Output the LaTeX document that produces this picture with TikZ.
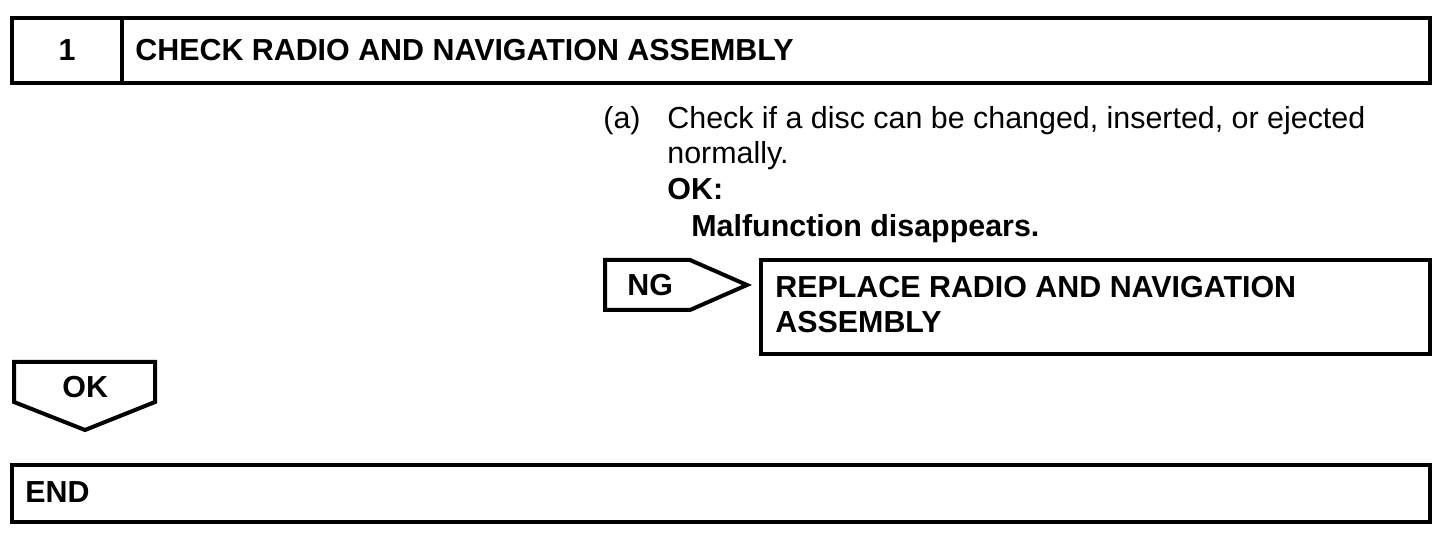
\documentclass[tikz,border=0pt]{standalone}
\usepackage{fontspec}
\setmainfont{Liberation Sans}
\begin{document}
\begin{tikzpicture}[x=0.5pt,y=-0.5pt,
  box/.style={line width=2pt, line join=miter},
  txt/.style={inner sep=0pt, anchor=base west, font=\fontsize{15.2pt}{18pt}\selectfont},
  btxt/.style={txt, font=\fontsize{15.2pt}{18pt}\selectfont\bfseries}]
\useasboundingbox (0,0) rectangle (1456,544);
% header
\draw[box] (12,18) rectangle (1430,83);
\draw[box] (122,18) -- (122,83);
\node[btxt, anchor=base] (num) at (67,61) {1};
\node[btxt] (title) at (135,61) {CHECK RADIO AND NAVIGATION ASSEMBLY};
% instructions
\node[txt] (a) at (603,129) {(a)};
\node[txt] (l1) at (667,129) {Check if a disc can be changed, inserted, or ejected};
\node[txt] (l2) at (667,164) {normally.};
\node[btxt] (okl) at (667,200) {OK:};
\node[btxt] (mal) at (691,237) {Malfunction disappears.};
% NG arrow and replace box
\draw[box] (605,260) -- (690,260) -- (747,285) -- (690,310) -- (605,310) -- cycle;
\node[btxt] (ng) at (627,296) {NG};
\draw[box] (761,260) rectangle (1430,354);
\node[btxt] (rep1) at (775,298) {REPLACE RADIO AND NAVIGATION};
\node[btxt] (rep2) at (775,333) {ASSEMBLY};
% OK arrow
\draw[box] (14,362) -- (155,362) -- (155,402) -- (85,430) -- (14,402) -- cycle;
\node[btxt] (ok) at (62,398) {OK};
% END
\draw[box] (12,465) rectangle (1430,522);
\node[btxt] (endt) at (25,503) {END};
\end{tikzpicture}
\end{document}
